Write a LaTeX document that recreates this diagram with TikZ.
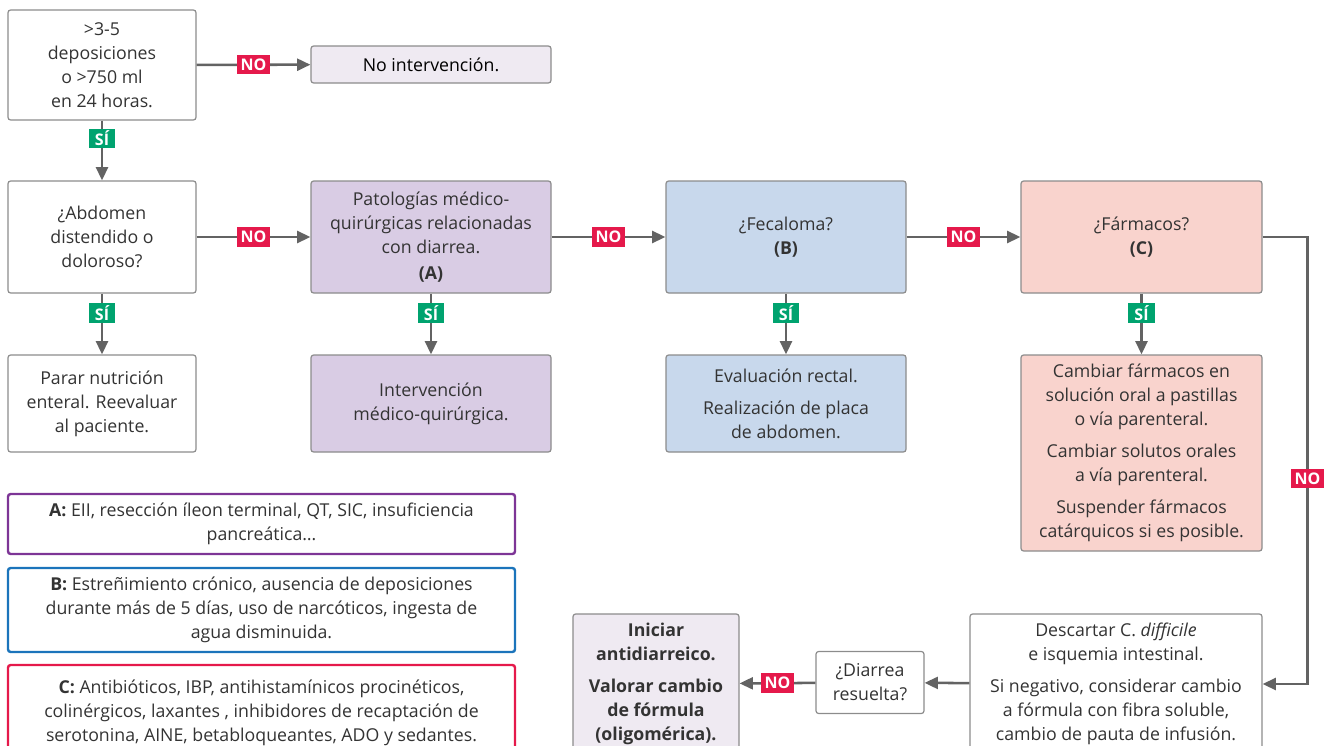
\documentclass[tikz,border=0pt]{standalone}
\usepackage{fontspec}
\setmainfont{Open Sans}
\usetikzlibrary{arrows.meta,positioning}

\definecolor{txtgray}{HTML}{333333}
\definecolor{boxgray}{HTML}{8C8C8C}
\definecolor{arrgray}{HTML}{636363}
\definecolor{purplefill}{HTML}{D9CCE4}
\definecolor{lavfill}{HTML}{EFEAF2}
\definecolor{bluefill}{HTML}{C8D8EC}
\definecolor{pinkfill}{HTML}{F9D3CD}
\definecolor{nored}{HTML}{E5194B}
\definecolor{sigreen}{HTML}{00A36F}
\definecolor{legpurple}{HTML}{7D3596}
\definecolor{legblue}{HTML}{1B74BB}

\tikzset{every picture/.style={line width=0.75pt}}
\tikzset{
  box/.style={draw=boxgray, line width=0.9pt, rounded corners=2pt, align=center,
    text=txtgray, inner sep=2pt, font=\fontsize{13.3}{18}\selectfont},
  legbox/.style={box, line width=1.8pt, minimum width=380.25pt},
  arr/.style={draw=arrgray, line width=1.9pt, -{Triangle[length=10pt,width=9pt]}},
  nolbl/.style={fill=nored, text=white, inner xsep=2.5pt, inner ysep=1pt, minimum height=14.5pt,
    font=\bfseries\fontsize{12}{12}\selectfont},
  silbl/.style={fill=sigreen, text=white, inner xsep=2.5pt, inner ysep=1pt, minimum height=14.5pt,
    minimum width=20pt, font=\bfseries\fontsize{12}{12}\selectfont}
}

\begin{document}
\begin{tikzpicture}[x=0.75pt,y=0.75pt,yscale=-1,xscale=1]
  \useasboundingbox (0,0) rectangle (1325,746);
  \clip (0,0) rectangle (1325,746);

  % first question
  \node[box, minimum width=141pt, minimum height=82.5pt] (cond) at (102,65)
    {>3-5\\ deposiciones\\ o >750 ml\\ en 24 horas.};
  \node[box, fill=lavfill, minimum width=180pt, minimum height=27.75pt] (noint) at (431,64.5)
    {\color{black}No intervención.};

  % row of questions
  \node[box, minimum width=141pt, minimum height=84pt] (abdo) at (102,237)
    {¿Abdomen\\ distendido o\\ doloroso?};
  \node[box, fill=purplefill, minimum width=180pt, minimum height=84pt] (pato) at (431,237)
    {Patologías médico-\\ quirúrgicas relacionadas\\ con diarrea.\\[1pt] \textbf{(A)}};
  \node[box, fill=bluefill, minimum width=180pt, minimum height=84pt] (feca) at (786,237)
    {¿Fecaloma?\\ \textbf{(B)}};
  \node[box, fill=pinkfill, minimum width=180.75pt, minimum height=84pt] (farm) at (1141.5,237)
    {¿Fármacos?\\ \textbf{(C)}};

  % actions
  \node[box, minimum width=141pt, minimum height=72.75pt] (parar) at (102,403.5)
    {Parar nutrición\\ enteral. Reevaluar\\ al paciente.};
  \node[box, fill=purplefill, minimum width=180pt, minimum height=72.75pt] (interv) at (431,403.5)
    {Intervención\\ médico-quirúrgica.};
  \node[box, fill=bluefill, minimum width=180pt, minimum height=72.75pt] (evalr) at (786,403.5)
    {Evaluación rectal.\\[6pt] Realización de placa\\ de abdomen.};
  \node[box, fill=pinkfill, minimum width=180.75pt, minimum height=147pt] (cambiar) at (1141.5,453)
    {Cambiar fármacos en\\ solución oral a pastillas\\ o vía parenteral.\\[6pt]
     Cambiar solutos orales\\ a vía parenteral.\\[6pt]
     Suspender fármacos\\ catárquicos si es posible.};

  % legend
  \node[legbox, draw=legpurple, minimum height=45pt] (legA) at (261.5,524)
    {\textbf{A:} EII, resección íleon terminal, QT, SIC, insuficiencia\\ pancreática\dots};
  \node[legbox, draw=legblue, minimum height=63pt] (legB) at (261.5,610)
    {\textbf{B:} Estreñimiento crónico, ausencia de deposiciones\\
     durante más de 5 días, uso de narcóticos, ingesta de\\ agua disminuida.};
  \node[legbox, draw=nored, minimum height=72pt] (legC) at (261.5,713)
    {\textbf{C:} Antibióticos, IBP, antihistamínicos procinéticos,\\
     colinérgicos, laxantes , inhibidores de recaptación de\\
     serotonina, AINE, betabloqueantes, ADO y sedantes.};

  % bottom row
  \node[box, minimum width=219pt, minimum height=105pt] (desc) at (1116,684)
    {Descartar C. \textit{difficile}\\ e isquemia intestinal.\\[6pt]
     Si negativo, considerar cambio\\ a fórmula con fibra soluble,\\ cambio de pauta de infusión.};
  \node[box, minimum width=81pt, minimum height=46.5pt] (diarrea) at (870,682.5)
    {¿Diarrea\\ resuelta?};
  \node[box, fill=lavfill, minimum width=124.5pt, minimum height=105pt, font=\bfseries\fontsize{13.3}{18}\selectfont] (inic) at (656,684)
    {Iniciar\\ antidiarreico.\\[6pt] Valorar cambio\\ de fórmula\\ (oligomérica).};

  % connectors
  \draw[arr] (cond) -- node[nolbl]{NO} (noint);
  \draw[arr] (cond) -- node[silbl, pos=0.3]{SÍ} (abdo);
  \draw[arr] (abdo) -- node[nolbl]{NO} (pato);
  \draw[arr] (pato) -- node[nolbl]{NO} (feca);
  \draw[arr] (feca) -- node[nolbl]{NO} (farm);
  \draw[arr] (abdo) -- node[silbl, pos=0.32]{SÍ} (parar);
  \draw[arr] (pato) -- node[silbl, pos=0.32]{SÍ} (interv);
  \draw[arr] (feca) -- node[silbl, pos=0.32]{SÍ} (evalr);
  \draw[arr] (farm.south) -- node[silbl, pos=0.32]{SÍ} (cambiar.north);
  \draw[arr] (farm.east) -- ++(45,0) |- node[nolbl, pos=0.27]{NO} (desc.east);
  \draw[arr] (desc) -- (diarrea);
  \draw[arr] (diarrea) -- node[nolbl]{NO} (inic);
\end{tikzpicture}
\end{document}
